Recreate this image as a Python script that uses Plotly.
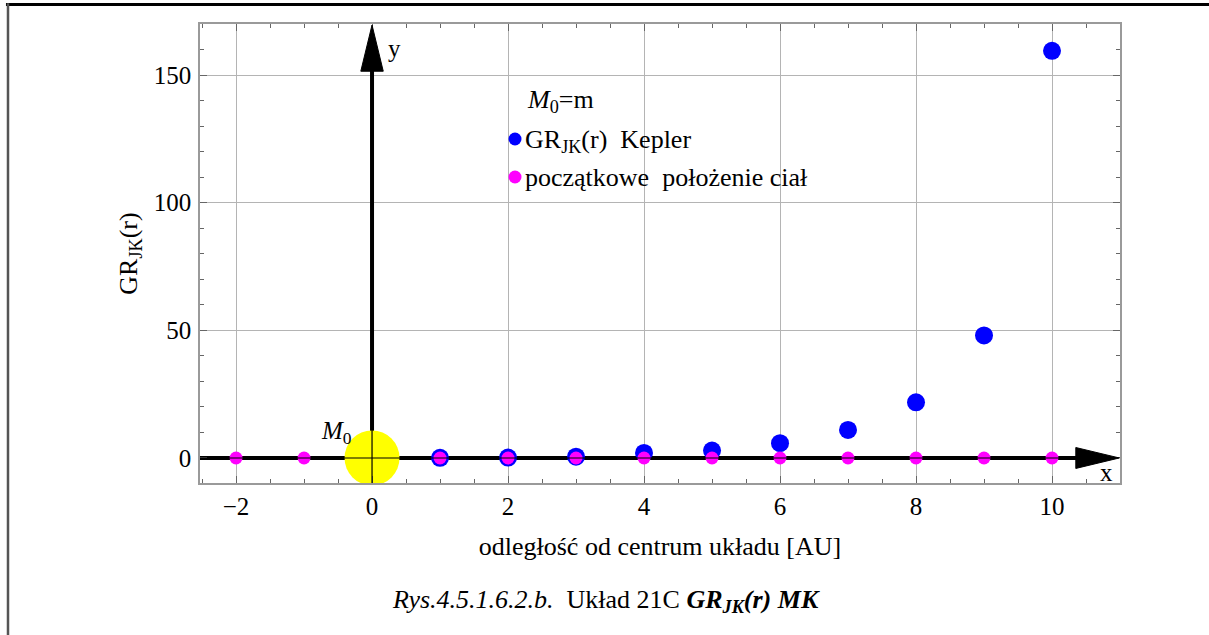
import plotly.graph_objects as go

# Positions of the bodies along the x axis [AU] and their GR_JK(r) values
r_kepler = [1, 2, 3, 4, 5, 6, 7, 8, 9, 10]
gr_kepler = [0.05, 0.15, 0.5, 2.0, 2.9, 5.8, 11.0, 21.8, 48.0, 159.5]

r_start = [-2, -1, 1, 2, 3, 4, 5, 6, 7, 8, 9, 10]
gr_start = [0] * len(r_start)

m0_x = [0]
m0_y = [0]

x_ticks = [-2, 0, 2, 4, 6, 8, 10]
y_ticks = [0, 50, 100, 150]

X_RANGE = [-2.53, 11.0]
Y_RANGE = [-9.8, 170.0]

SERIF = "Liberation Serif, Times New Roman, serif"
FRAME = "#9a9a9a"
GRID = "#b4b4b4"

fig = go.Figure()

# central mass M0
fig.add_trace(go.Scatter(
    x=m0_x, y=m0_y, mode="markers",
    marker=dict(size=55, color="#ffff00", line=dict(width=0)),
    showlegend=False, hoverinfo="skip",
))
# GR_JK(r) Kepler
fig.add_trace(go.Scatter(
    x=r_kepler, y=gr_kepler, mode="markers",
    marker=dict(size=18, color="#0000ff", line=dict(width=0)),
    showlegend=False,
))
# initial positions of the bodies
fig.add_trace(go.Scatter(
    x=r_start, y=gr_start, mode="markers",
    marker=dict(size=13, color="#ff00ff", line=dict(width=0)),
    showlegend=False,
))

shapes = []
# thick coordinate axes with arrowheads
shapes.append(dict(type="line", xref="x", yref="y", x0=X_RANGE[0], x1=10.4, y0=0, y1=0,
                   line=dict(color="black", width=4), layer="between"))
shapes.append(dict(type="path", xref="x", yref="y",
                   path="M 10.35 -4.1 L 10.99 0 L 10.35 4.1 Z",
                   fillcolor="black", line=dict(color="black", width=1), layer="above"))
shapes.append(dict(type="line", xref="x", yref="y", x0=0, x1=0, y0=0, y1=153,
                   line=dict(color="black", width=4), layer="between"))
shapes.append(dict(type="path", xref="x", yref="y",
                   path="M -0.165 151.5 L 0 169.6 L 0.165 151.5 Z",
                   fillcolor="black", line=dict(color="black", width=1), layer="above"))
# thin axis lines drawn over the markers
shapes.append(dict(type="line", xref="x", yref="y", x0=X_RANGE[0], x1=10.4, y0=0, y1=0,
                   line=dict(color="black", width=1.2), layer="above"))
shapes.append(dict(type="line", xref="x", yref="y", x0=0, x1=0, y0=Y_RANGE[0], y1=12,
                   line=dict(color="black", width=1.2), layer="above"))

# page border lines
shapes.append(dict(type="line", xref="paper", yref="paper",
                   x0=-0.2109, x1=1.1, y0=1.0425, y1=1.0425,
                   line=dict(color="black", width=3)))
shapes.append(dict(type="line", xref="paper", yref="paper",
                   x0=-0.2087, x1=-0.2087, y0=1.045, y1=-0.34,
                   line=dict(color="#555555", width=2.5)))

# legend dots
def px_x(p):
    return (p - 200) / 920.0

def px_y(p):
    return (483 - p) / 459.0

for py, col in [(139, "#0000ff"), (177, "#ff00ff")]:
    shapes.append(dict(type="circle", xref="paper", yref="paper",
                       xsizemode="pixel", ysizemode="pixel",
                       xanchor=px_x(515), yanchor=px_y(py),
                       x0=-6.5, x1=6.5, y0=-6.5, y1=6.5,
                       fillcolor=col, line=dict(width=0)))

LEG = 26
annotations = [
    dict(text="<i>M</i><sub>0</sub>=m", xref="paper", yref="paper",
         x=px_x(525), y=px_y(101), xanchor="left", yanchor="middle",
         showarrow=False, font=dict(family=SERIF, size=LEG, color="black")),
    dict(text="GR<sub>JK</sub>(r)  Kepler", xref="paper", yref="paper",
         x=px_x(523), y=px_y(141), xanchor="left", yanchor="middle",
         showarrow=False, font=dict(family=SERIF, size=LEG, color="black")),
    dict(text="początkowe  położenie ciał", xref="paper", yref="paper",
         x=px_x(523), y=px_y(178), xanchor="left", yanchor="middle",
         showarrow=False, font=dict(family=SERIF, size=LEG, color="black")),
    dict(text="<i>M</i><sub>0</sub>", xref="x", yref="y", x=-0.52, y=10.0,
         xanchor="center", yanchor="middle", showarrow=False,
         font=dict(family=SERIF, size=25, color="black")),
    dict(text="y", xref="x", yref="y", x=0.33, y=160.5,
         xanchor="center", yanchor="middle", showarrow=False,
         font=dict(family=SERIF, size=25, color="black")),
    dict(text="x", xref="x", yref="y", x=10.8, y=-5.6,
         xanchor="center", yanchor="middle", showarrow=False,
         font=dict(family=SERIF, size=25, color="black")),
    dict(text="<i>Rys.4.5.1.6.2.b.</i>  Układ 21C <b><i>GR<sub>JK</sub>(r) MK</i></b>",
         xref="paper", yref="paper", x=px_x(606), y=px_y(601),
         xanchor="center", yanchor="middle", showarrow=False,
         font=dict(family=SERIF, size=26, color="black")),
]

axis_common = dict(
    showline=True, linecolor=FRAME, linewidth=1.5, mirror="allticks",
    ticks="inside", ticklen=7, tickcolor="#666666", tickwidth=1,
    showgrid=True, gridcolor=GRID, gridwidth=1, zeroline=False,
    tickfont=dict(family=SERIF, size=25, color="black"),
)

fig.update_xaxes(
    range=X_RANGE, tickvals=x_ticks, ticklabelstandoff=0,
    minor=dict(dtick=0.5, ticks="inside", ticklen=4, tickcolor="#666666", showgrid=False),
    title=dict(text="odległość od centrum układu [AU]", standoff=18,
               font=dict(family=SERIF, size=26, color="black")),
    **axis_common,
)
fig.update_yaxes(
    range=Y_RANGE, tickvals=y_ticks, ticklabelstandoff=2,
    minor=dict(dtick=10, ticks="inside", ticklen=4, tickcolor="#666666", showgrid=False),
    title=dict(text="GR<sub>JK</sub>(r)", standoff=9,
               font=dict(family=SERIF, size=26, color="black")),
    **axis_common,
)

fig.update_layout(
    width=1209, height=635,
    margin=dict(l=200, r=89, t=24, b=152, autoexpand=False),
    paper_bgcolor="white", plot_bgcolor="white",
    shapes=shapes, annotations=annotations,
    showlegend=False,
    font=dict(family=SERIF, color="black"),
)

fig.write_html("out.html")
